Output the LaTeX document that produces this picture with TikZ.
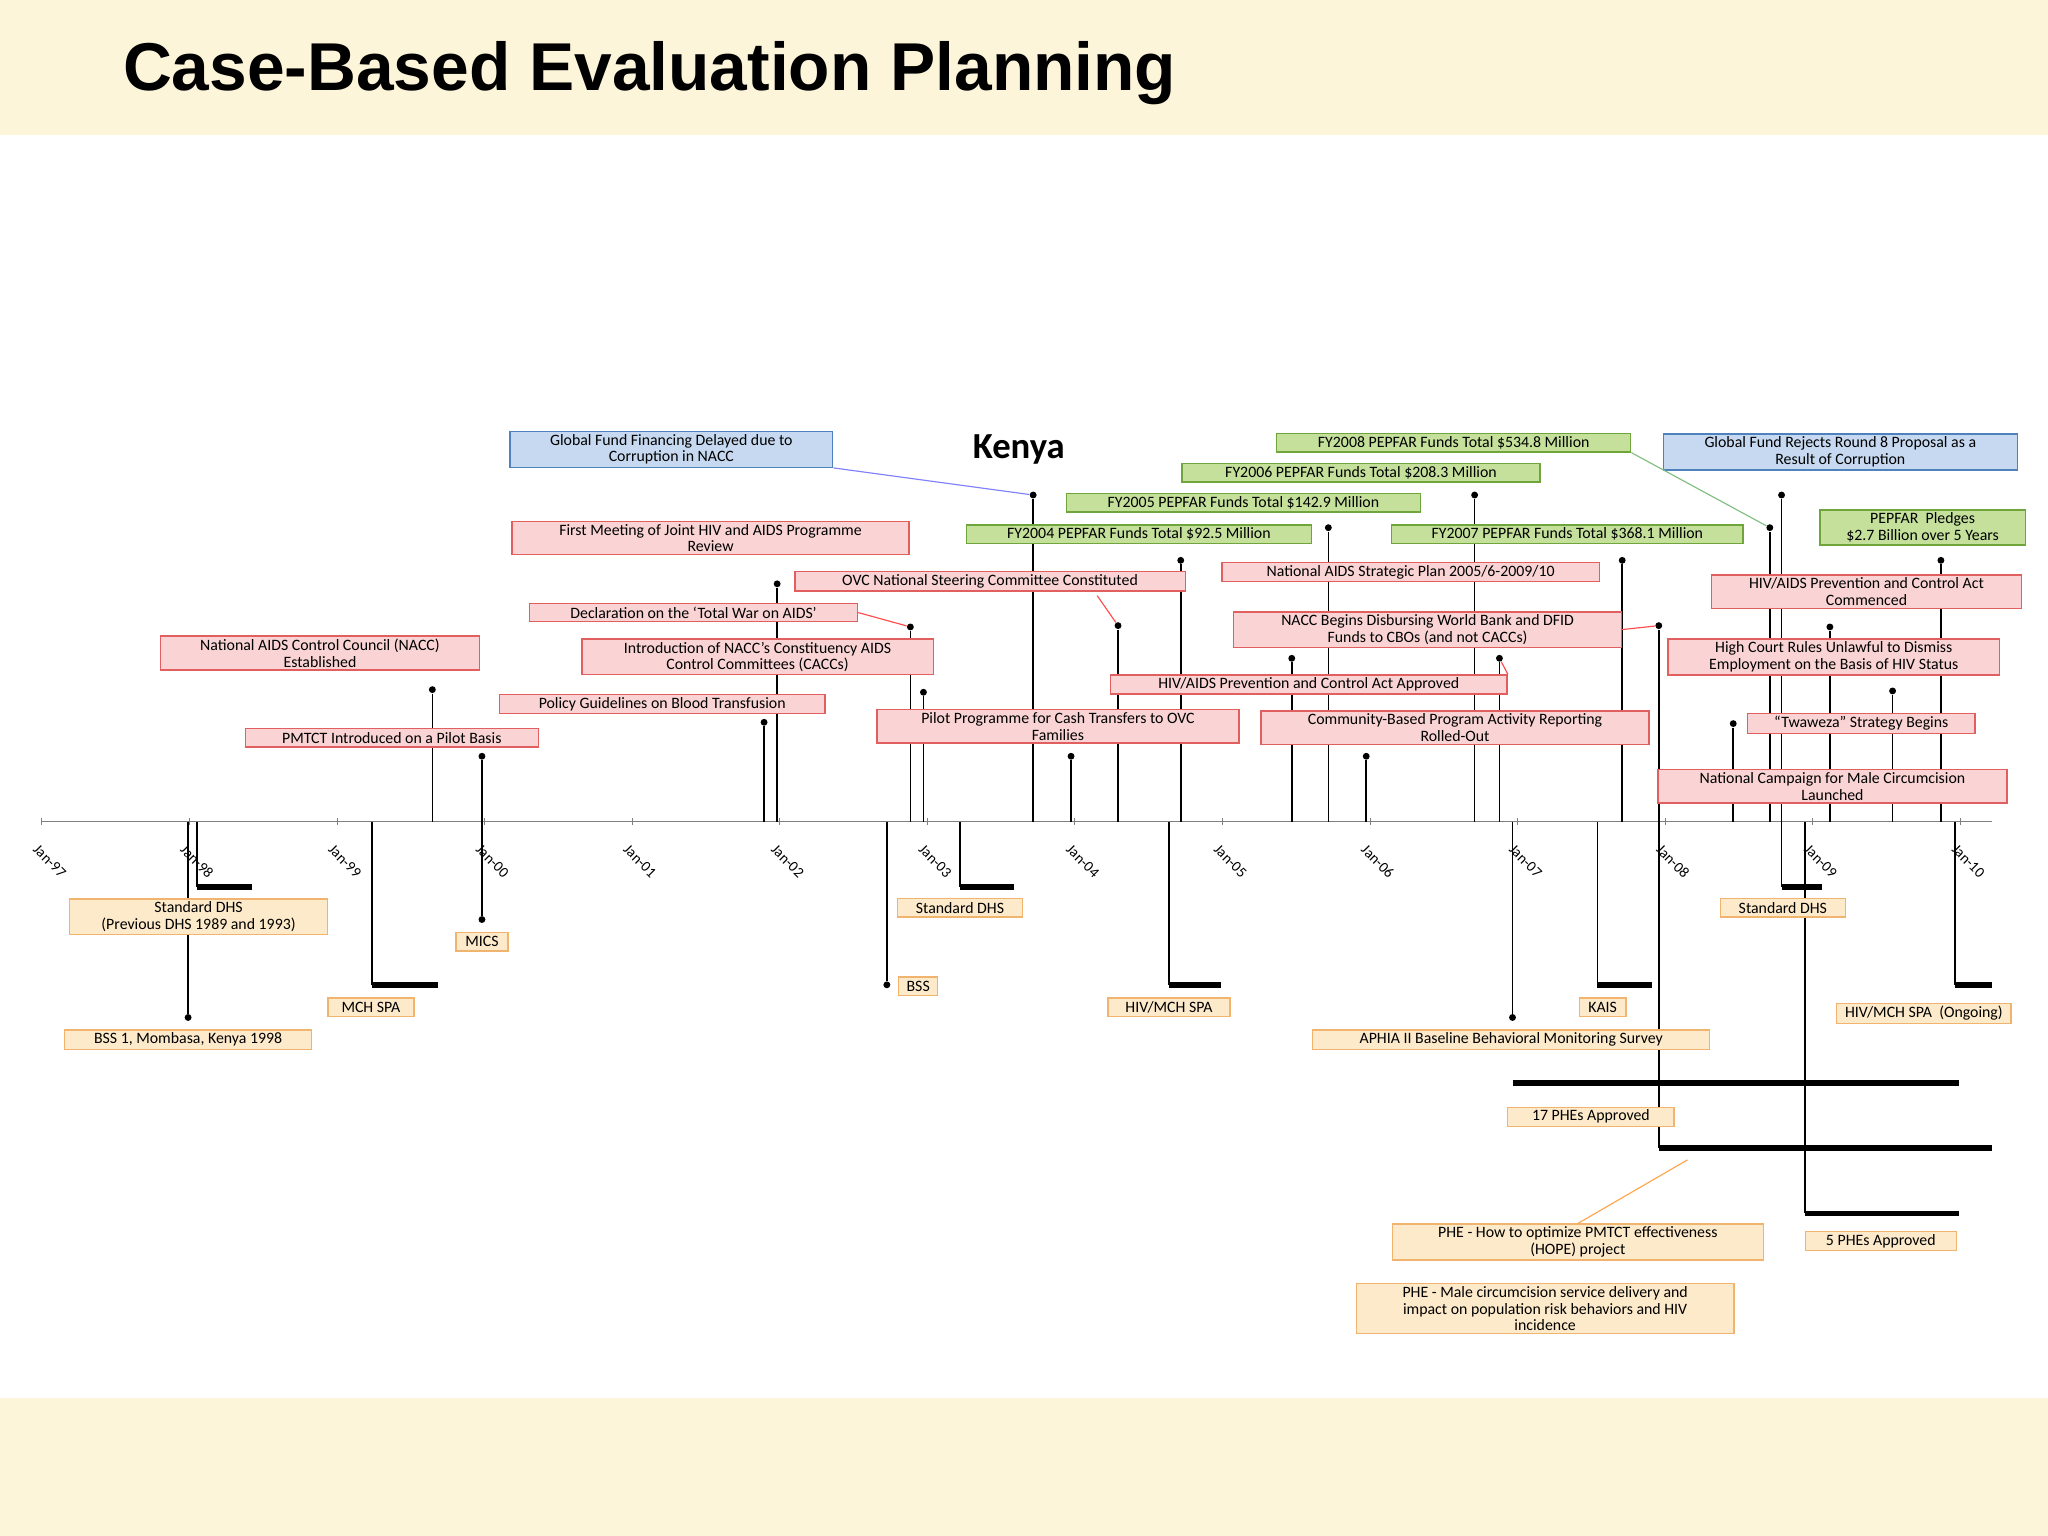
\documentclass[tikz,border=0pt]{standalone}
\usepackage{fontspec}
\setmainfont{Carlito}
\newfontfamily\titlefont{Liberation Sans}
\begin{document}
\begin{tikzpicture}[x=0.02cm,y=-0.02cm,
 bx/.style={draw,align=center,inner sep=1.2pt,font=\fontsize{6.9}{7.3}\selectfont,line width=0.6pt,minimum height=8pt},
 w/.style={minimum width=0.567pt*#1},
 rbox/.style={bx,draw={rgb,255:red,225;green,95;blue,95},fill={rgb,255:red,250;green,212;blue,212}},
 gbox/.style={bx,draw={rgb,255:red,112;green,165;blue,60},fill={rgb,255:red,196;green,224;blue,155}},
 bbox/.style={bx,draw={rgb,255:red,79;green,129;blue,189},fill={rgb,255:red,198;green,217;blue,240}},
 obox/.style={bx,draw={rgb,255:red,240;green,180;blue,110},fill={rgb,255:red,253;green,234;blue,202}},
 stem/.style={line width=0.7pt},
 bar/.style={line width=2.5pt},
 dot/.style={circle,fill,inner sep=0pt,minimum size=3pt},
 conn/.style={line width=0.5pt},
 tick/.style={font=\fontsize{6.5}{7}\selectfont,rotate=-45,anchor=north west,inner sep=1pt}]
\definecolor{band}{RGB}{253,245,218}
\fill[band] (0,0) rectangle (1568,103);
\fill[white] (0,103) rectangle (1568,1070);
\fill[band] (0,1070) rectangle (1568,1176);
\useasboundingbox (0,0) rectangle (1568,1176);
\node[font=\titlefont\bfseries\fontsize{29.5}{31}\selectfont,anchor=west] (title) at (88,56) {Case-Based Evaluation Planning};
\node[font=\bfseries\fontsize{16}{18}\selectfont] (kenya) at (780,344) {Kenya};
% axis
\coordinate (a0) at (32,629); \coordinate (a1) at (1525,629);
\draw[line width=0.6pt,gray] (a0) -- (a1);
\foreach \l [count=\i from 0] in {97,98,99,00,01,02,03,04,05,06,07,08,09,10}{
 \node[tick] (t\i) at (30+113*\i,643) {Jan-\l};
 \draw[gray] (32+113*\i,626) -- (32+113*\i,632);}
% stems above
\foreach \n/\x/\y in {s1/331/528,s2/369/579,s3/585/553,s4/595/447,s5/697/480,s6/707/530,s7/791/379,s8/820/579,s9/856/479,s10/904/429,s11/989/504,s12/1017/404,s13/1046/579,s14/1129/379,s15/1148/504,s16/1242/429,s17/1270/479,s18/1327/554,s19/1355/404,s20/1364/379,s21/1401/480,s22/1449/529,s23/1486/429}{
 \node[dot] (\n) at (\x,\y) {};
 \coordinate (\n b) at (\x,629);
 \draw[stem] (\n b) -- (\n);}
% boxes above
\node[rbox,w=245] (b1) at (245,500) {National AIDS Control Council (NACC)\\Established};
\node[rbox,w=225] (b2) at (300,565) {PMTCT Introduced on a Pilot Basis};
\node[rbox,w=250] (b3) at (507,539) {Policy Guidelines on Blood Transfusion};
\node[rbox,w=305] (b4) at (544,412) {First Meeting of Joint HIV and AIDS Programme\\Review};
\node[rbox,w=252] (b5) at (531,469) {Declaration on the `Total War on AIDS'};
\node[rbox,w=270] (b6) at (580,503) {Introduction of NACC's Constituency AIDS\\Control Committees (CACCs)};
\node[bbox,w=248] (b7) at (514,344) {Global Fund Financing Delayed due to\\Corruption in NACC};
\node[rbox,w=278] (b8) at (810,556) {Pilot Programme for Cash Transfers to OVC\\Families};
\node[rbox,w=300] (b9) at (758,445) {OVC National Steering Committee Constituted};
\node[gbox,w=265] (b10) at (872,409) {FY2004 PEPFAR Funds Total \$92.5 Million};
\node[gbox,w=272] (b11) at (952,385) {FY2005 PEPFAR Funds Total \$142.9 Million};
\node[gbox,w=275] (b12) at (1042,362) {FY2006 PEPFAR Funds Total \$208.3 Million};
\node[gbox,w=272] (b13) at (1113,339) {FY2008 PEPFAR Funds Total \$534.8 Million};
\node[rbox,w=305] (b14) at (1002,524) {HIV/AIDS Prevention and Control Act Approved};
\node[rbox,w=290] (b15) at (1080,438) {National AIDS Strategic Plan 2005/6-2009/10};
\node[rbox,w=298] (b16) at (1093,482) {NACC Begins Disbursing World Bank and DFID\\Funds to CBOs (and not CACCs)};
\node[rbox,w=298] (b17) at (1114,557) {Community-Based Program Activity Reporting\\Rolled-Out};
\node[gbox,w=270] (b18) at (1200,409) {FY2007 PEPFAR Funds Total \$368.1 Million};
\node[bbox,w=272] (b19) at (1409,346) {Global Fund Rejects Round 8 Proposal as a\\Result of Corruption};
\node[gbox,w=158] (b20) at (1472,404) {PEPFAR~ Pledges\\\$2.7 Billion over 5 Years};
\node[rbox,w=238] (b21) at (1429,453) {HIV/AIDS Prevention and Control Act\\Commenced};
\node[rbox,w=255] (b22) at (1404,503) {High Court Rules Unlawful to Dismiss\\Employment on the Basis of HIV Status};
\node[rbox,w=175] (b23) at (1425,554) {``Twaweza'' Strategy Begins};
\node[rbox,w=268] (b24) at (1403,602) {National Campaign for Male Circumcision\\Launched};
% connectors
\draw[conn,red!70] (b5.east) -- (s5);
\draw[conn,blue!50] (b7.south east) -- (s7);
\draw[conn,red!70] (840,456) -- (s9);
\draw[conn,red!70] (b14.north east) -- (s15);
\draw[conn,red!70] (b16.east) -- (s17);
\draw[conn,green!50!black!50] (b13.south east) -- (s19);
% below
\foreach \n/\x/\y in {d1/144/779,d2/369/704,d3/679/754,d4/1158/779}{
 \node[dot] (\n) at (\x,\y) {}; \coordinate (\n b) at (\x,629); \draw[stem] (\n b) -- (\n);}
\foreach \n/\x/\y/\e in {e1/151/679/193,e2/285/754/335,e3/735/679/776,e4/895/754/935,e5/1223/754/1265,e6/1364/679/1395,e7/1497/754/1525,e8/1270/879/1525,e9/1382/929/1500}{
 \coordinate (\n t) at (\x,629); \coordinate (\n) at (\x,\y); \coordinate (\n e) at (\e,\y);
 \draw[stem] (\n t) -- (\n); \draw[bar] (\n) -- (\n e);}
\coordinate (f1) at (1158,829); \coordinate (f2) at (1500,829);
\draw[bar] (f1) -- (f2);
\node[obox,w=198] (c1) at (152,702) {Standard DHS\\(Previous DHS 1989 and 1993)};
\node[obox,w=190] (c2) at (144,796) {BSS 1, Mombasa, Kenya 1998};
\node[obox,w=66] (c3) at (284,771) {MCH SPA};
\node[obox,w=40] (c4) at (369,721) {MICS};
\node[obox,w=30] (c5) at (703,755) {BSS};
\node[obox,w=96] (c6) at (735,695) {Standard DHS};
\node[obox,w=94] (c7) at (895,771) {HIV/MCH SPA};
\node[obox,w=36] (c8) at (1227,771) {KAIS};
\node[obox,w=305] (c9) at (1157,796) {APHIA II Baseline Behavioral Monitoring Survey};
\node[obox,w=128] (c10) at (1218,855) {17 PHEs Approved};
\node[obox,w=285] (c11) at (1208,951) {PHE - How to optimize PMTCT effectiveness\\(HOPE) project};
\node[obox,w=290] (c12) at (1183,1002) {PHE - Male circumcision service delivery and\\impact on population risk behaviors and HIV\\incidence};
\node[obox,w=96] (c13) at (1365,695) {Standard DHS};
\node[obox,w=116] (c14) at (1440,950) {5 PHEs Approved};
\node[obox,w=134] (c15) at (1473,776) {HIV/MCH SPA~ (Ongoing)};
\draw[conn,orange!70] (1292,888) -- (c11.north);
\end{tikzpicture}
\end{document}
